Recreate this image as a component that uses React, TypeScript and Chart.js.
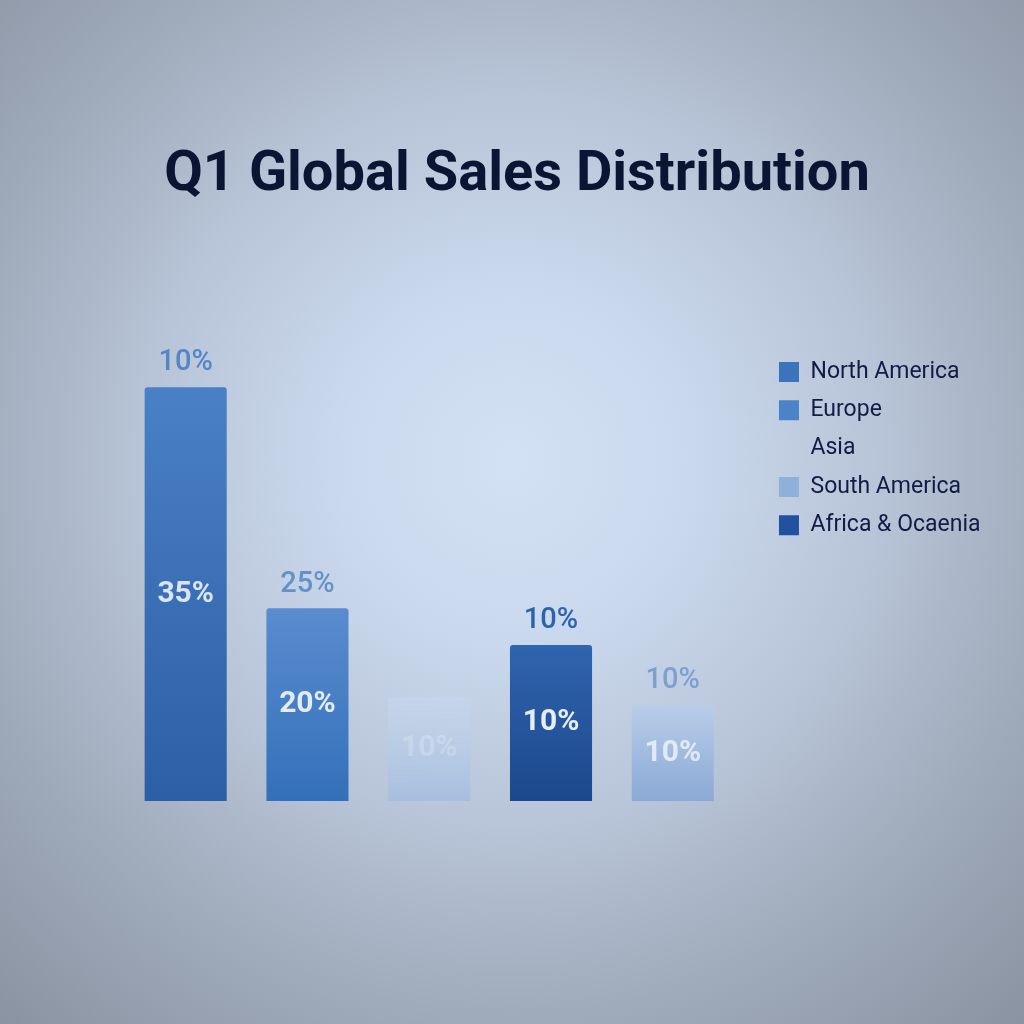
import React, { useEffect, useRef } from "react";
import { Chart, registerables } from "chart.js";

Chart.register(...registerables);

// ---- data ----
const categories = ["North America", "Europe", "Asia", "Africa & Ocaenia", "South America"];
const shareValues = [35, 16.3, 8.8, 13.2, 8.1];
const insideLabels = ["35%", "20%", "10%", "10%", "10%"];
const topLabels = ["10%", "25%", "", "10%", "10%"];
const legendNames = ["North America", "Europe", "Asia", "South America", "Africa & Ocaenia"];

// ---- styles ----
const legendColors = ["#3b73bd", "#4b82c8", "rgba(0,0,0,0)", "#90b0dc", "#22519f"];
const barTopColors = ["#4a80c5", "#5a8ccf", "rgba(200,216,238,0.5)", "#2f64ae", "#b9cde9"];
const barBottomColors = ["#2b5fa6", "#3370b9", "#a6bedf", "#1c488c", "#8aa9d5"];
const topLabelColors = ["#5485c4", "#6591c9", "#000000", "#2c63ae", "#7ca0cf"];
const insideLabelColors = ["#dbe5f2", "#e3ebf5", "rgba(255,255,255,0.2)", "#e6edf6", "rgba(240,245,251,0.8)"];

const labelPlugin = {
  id: "barLabels",
  afterDatasetsDraw(chart: any) {
    const ctx = chart.ctx;
    const meta = chart.getDatasetMeta(0);
    ctx.save();
    ctx.textAlign = "center";
    ctx.textBaseline = "middle";
    meta.data.forEach((bar: any, i: number) => {
      const { x, y, base } = bar.getProps(["x", "y", "base"], true);
      if (topLabels[i]) {
        ctx.font = "500 29px Roboto";
        ctx.fillStyle = topLabelColors[i];
        ctx.fillText(topLabels[i], x, y - 24);
      }
      ctx.font = "bold 30px Roboto";
      ctx.fillStyle = insideLabelColors[i];
      ctx.fillText(insideLabels[i], x, (y + base) / 2);
    });
    ctx.restore();
  },
};

export default function App() {
  const ref = useRef<HTMLCanvasElement | null>(null);

  useEffect(() => {
    if (!ref.current) return;
    const chart = new Chart(ref.current, {
      type: "bar",
      data: {
        labels: categories,
        datasets: [
          {
            label: "Share",
            data: shareValues,
            barPercentage: 0.674,
            categoryPercentage: 1,
            borderRadius: 3,
            backgroundColor: (c: any) => {
              const i = c.dataIndex ?? 0;
              const ch = c.chart;
              const ys = ch.scales && ch.scales.y;
              if (!ys || !ch.chartArea) return barBottomColors[i];
              const top = ys.getPixelForValue(shareValues[i]);
              const bottom = ys.getPixelForValue(0);
              if (!isFinite(top) || !isFinite(bottom) || top === bottom) return barBottomColors[i];
              const g = ch.ctx.createLinearGradient(0, top, 0, bottom);
              g.addColorStop(0, barTopColors[i]);
              g.addColorStop(1, barBottomColors[i]);
              return g;
            },
          },
        ],
      },
      options: {
        responsive: false,
        animation: false,
        layout: { padding: { left: 43.5, right: 33.5, top: 0, bottom: 223 } },
        plugins: {
          title: {
            display: true,
            text: "Q1 Global Sales Distribution",
            color: "#0a1433",
            font: { family: "Roboto", size: 56, weight: "bold" },
            padding: { top: 142, bottom: 133 },
          },
          legend: {
            position: "right",
            align: "start",
            fullSize: false,
            maxWidth: 260,
            title: {
              display: true,
              text: " ",
              padding: 0,
              font: { family: "Roboto", size: 3, lineHeight: 1 },
            },
            labels: {
              boxWidth: 20,
              boxHeight: 20,
              padding: 15.3,
              color: "#101c45",
              font: { family: "Roboto", size: 23 },
              generateLabels: () =>
                legendNames.map((n, i) => ({
                  text: n,
                  fillStyle: legendColors[i],
                  strokeStyle: legendColors[i],
                  fontColor: "#101c45",
                  lineWidth: 0,
                  hidden: false,
                  index: i,
                  datasetIndex: 0,
                })),
            },
          },
          tooltip: { enabled: false },
        },
        scales: {
          x: { display: false },
          y: {
            display: true,
            min: 0,
            max: 38.8,
            grid: { display: false },
            ticks: { display: false },
            border: { display: false },
            afterFit: (s: any) => {
              s.width = 81.3;
            },
          },
          y2: {
            type: "linear",
            position: "right",
            display: true,
            grid: { display: false },
            ticks: { display: false },
            border: { display: false },
            afterFit: (s: any) => {
              s.width = 30;
            },
          },
        },
      } as any,
      plugins: [labelPlugin],
    });
    return () => chart.destroy();
  }, []);

  return (
    <div
      style={{
        position: "absolute",
        left: 0,
        top: 0,
        width: 1024,
        height: 1024,
        background:
          "radial-gradient(circle farthest-corner at 50% 45%, #d3e1f4 0%, #cbd9ee 22%, #b8c5d8 48%, #a0abbb 72%, #8a93a2 100%)",
      }}
    >
      <canvas ref={ref} width={1024} height={1024} style={{ display: "block" }} />
    </div>
  );
}
